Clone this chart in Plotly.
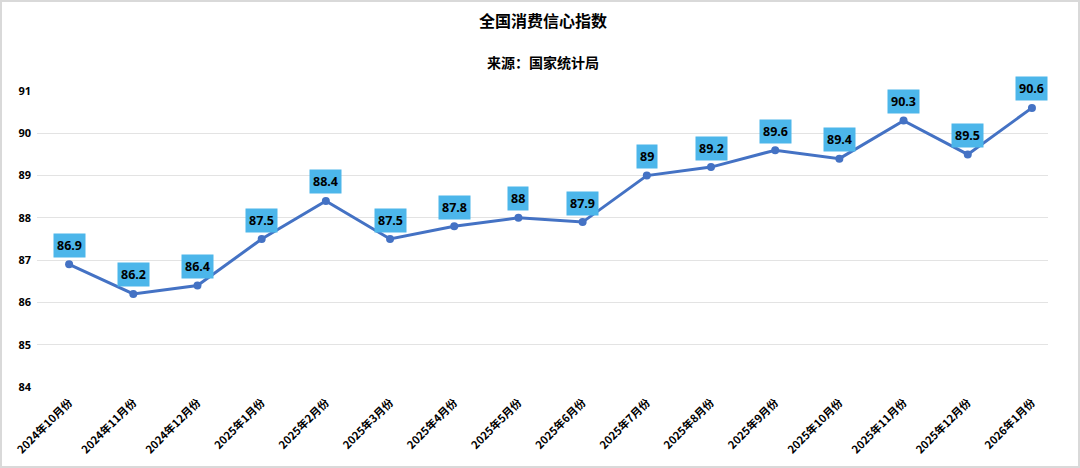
import plotly.graph_objects as go

months = ["2024年10月份", "2024年11月份", "2024年12月份", "2025年1月份", "2025年2月份",
          "2025年3月份", "2025年4月份", "2025年5月份", "2025年6月份", "2025年7月份",
          "2025年8月份", "2025年9月份", "2025年10月份", "2025年11月份", "2025年12月份",
          "2026年1月份"]
values = [86.9, 86.2, 86.4, 87.5, 88.4, 87.5, 87.8, 88, 87.9, 89, 89.2, 89.6, 89.4, 90.3, 89.5, 90.6]
y_ticks = [84, 85, 86, 87, 88, 89, 90, 91]

W, H = 1080, 468
ml, mr, mt, mb = 37, 32, 91, 81
font_cjk = "Noto Sans CJK SC, Open Sans, sans-serif"
font_num = "Open Sans, Noto Sans CJK SC, sans-serif"

fig = go.Figure()
fig.add_trace(go.Scatter(
    x=list(range(len(months))), y=values, mode="lines+markers",
    line=dict(color="#4472c4", width=3),
    marker=dict(color="#4472c4", size=8),
    hoverinfo="skip", showlegend=False,
))

annotations = []
for i, v in enumerate(values):
    annotations.append(dict(
        x=i, y=v, xref="x", yref="y", text="<b>%s</b>" % (f"{v:g}"),
        showarrow=False, yshift=19,
        font=dict(family=font_num, size=12.5, color="#000000"),
        bgcolor="#4cb6ea", borderpad=3,
    ))
pw, ph = W - ml - mr, H - mt - mb


def paper_y(px_from_top):
    return (H - mb - px_from_top) / ph


annotations.append(dict(x=0.5, y=paper_y(20), xref="paper", yref="paper", yanchor="middle",
                        text="<b>全国消费信心指数</b>", showarrow=False,
                        font=dict(family=font_cjk, size=16, color="#000")))
annotations.append(dict(x=0.5, y=paper_y(62), xref="paper", yref="paper", yanchor="middle",
                        text="<b>来源：国家统计局</b>", showarrow=False,
                        font=dict(family=font_cjk, size=14, color="#000")))

fig.update_layout(
    width=W, height=H,
    margin=dict(l=ml, r=mr, t=mt, b=mb),
    paper_bgcolor="white", plot_bgcolor="white",
    annotations=annotations,
    xaxis=dict(
        tickmode="array", tickvals=list(range(len(months))), ticktext=["<b>%s</b>" % m for m in months],
        range=[-0.5, 15.25], tickangle=-45, showgrid=False, zeroline=False, showline=False,
        tickfont=dict(family=font_cjk, size=11, color="#000"), ticks="",
        ticklabelstandoff=6,
    ),
    yaxis=dict(
        range=[84, 91], tickvals=y_ticks, ticktext=["<b>%d</b>" % t for t in y_ticks],
        showgrid=True, gridcolor="#e3e3e3", gridwidth=1, zeroline=False, showline=False,
        tickfont=dict(family=font_num, size=11, color="#000"), ticks="",
        ticklabelstandoff=5,
    ),
    shapes=[dict(type="rect", xref="paper", yref="paper",
                 x0=(-ml + 1) / pw, x1=1 + (mr - 1) / pw, y0=(-mb + 1) / ph, y1=1 + (mt - 1) / ph,
                 line=dict(color="#d9d9d9", width=2), layer="below")],
)

fig.write_html("out.html", config={"displayModeBar": False},
               post_script="document.body.style.margin='0';document.body.style.overflow='hidden';")
